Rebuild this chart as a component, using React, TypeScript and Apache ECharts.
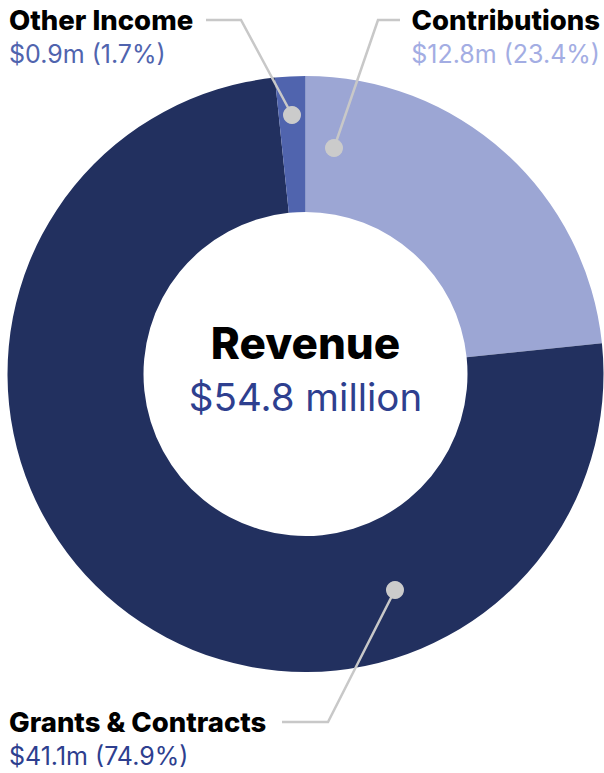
import React, { useEffect, useRef } from "react";
import * as echarts from "echarts";

const categories = ["Contributions", "Grants & Contracts", "Other Income"];
const amounts = [12.8, 41.1, 0.9];
const shares = [23.4, 74.9, 1.7];
const sliceColors = ["#9CA6D4", "#22305F", "#5064AE"];
const valueColors = ["#A3ADE3", "#2E3F8F", "#5064AE"];
const totalLabel = "$54.8 million";
const centerTitle = "Revenue";

export default function App() {
  const ref = useRef<HTMLDivElement>(null);
  useEffect(() => {
    const chart = echarts.init(ref.current!, null, { renderer: "svg" });
    const bold = "Inter";
    const reg = "Inter";
    const lineStyle = { stroke: "#C8C8C8", lineWidth: 2.5, fill: null };
    const dot = { fill: "#CBCBCB" };
    const label = (i: number, x: number, y: number, align: string) => [
      {
        type: "text",
        z: 100,
        x,
        y,
        style: {
          text: categories[i],
          font: `800 27.5px ${bold}`,
          fill: "#000",
          textAlign: align,
          textVerticalAlign: "middle",
        },
      },
      {
        type: "text",
        z: 100,
        x,
        y: y + 34,
        style: {
          text: `$${amounts[i].toFixed(1)}m (${shares[i].toFixed(1)}%)`,
          font: `400 25px ${reg}`,
          fill: valueColors[i],
          textAlign: align,
          textVerticalAlign: "middle",
        },
      },
    ];
    chart.setOption({
      animation: false,
      backgroundColor: "#fff",
      series: [
        {
          type: "pie",
          center: [305.5, 374],
          radius: [162, 298],
          startAngle: 90,
          clockwise: true,
          silent: true,
          z: 1,
          label: { show: false },
          labelLine: { show: false },
          itemStyle: { borderWidth: 0 },
          data: categories.map((c, i) => ({
            name: c,
            value: amounts[i],
            itemStyle: { color: sliceColors[i] },
          })),
        },
      ],
      graphic: [
        {
          type: "polyline",
          z: 100,
          shape: { points: [[206, 20], [241, 20], [292, 115]] },
          style: lineStyle,
        },
        { type: "circle", z: 101, shape: { cx: 292, cy: 115, r: 9 }, style: dot },
        {
          type: "polyline",
          z: 100,
          shape: { points: [[400, 20], [378, 20], [334, 148]] },
          style: lineStyle,
        },
        { type: "circle", z: 101, shape: { cx: 334, cy: 148, r: 9 }, style: dot },
        {
          type: "polyline",
          z: 100,
          shape: { points: [[282, 722], [328, 722], [395, 590]] },
          style: lineStyle,
        },
        { type: "circle", z: 101, shape: { cx: 395, cy: 590, r: 9 }, style: dot },
        ...label(2, 9, 20, "left"),
        ...label(0, 600, 20, "right"),
        ...label(1, 9, 722, "left"),
        {
          type: "text",
          z: 100,
          x: 305.5,
          y: 343,
          style: {
            text: centerTitle,
            font: `800 44px ${bold}`,
            fill: "#000",
            textAlign: "center",
            textVerticalAlign: "middle",
          },
        },
        {
          type: "text",
          z: 100,
          x: 305.5,
          y: 397,
          style: {
            text: totalLabel,
            font: `400 38.5px ${reg}`,
            fill: "#2E3F8F",
            textAlign: "center",
            textVerticalAlign: "middle",
          },
        },
      ],
    });
    return () => chart.dispose();
  }, []);
  return (
    <div
      ref={ref}
      style={{ position: "absolute", left: 0, top: 0, width: 604, height: 773 }}
    />
  );
}
